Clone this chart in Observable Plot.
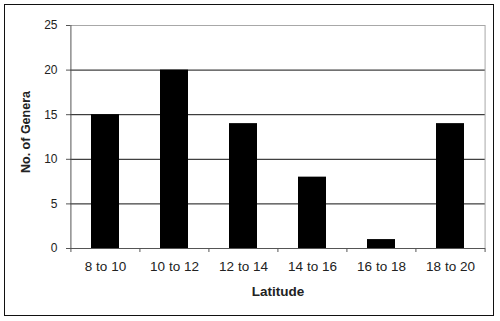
<!DOCTYPE html>
<html><head><meta charset="utf-8">
<script src="https://cdn.jsdelivr.net/npm/d3@7"></script>
<script src="https://cdn.jsdelivr.net/npm/@observablehq/plot@0.6"></script>
<style>
html,body{margin:0;padding:0;background:#fff;}
#wrap{position:relative;width:500px;height:321px;}
#frame{position:absolute;left:4px;top:4px;width:490px;height:312px;border:1px solid #111;box-sizing:border-box;pointer-events:none;}
</style>
</head><body>
<div id="wrap"><div id="frame"></div></div>
<script>
const categories = ["8 to 10","10 to 12","12 to 14","14 to 16","16 to 18","18 to 20"];
const genera = [15, 20, 14, 8, 1, 14];
const yTicks = [0, 5, 10, 15, 20, 25];
const gridLines = [5, 10, 15, 20];

const data = categories.map((c, i) => ({cat: c, n: genera[i]}));
const W = 500, H = 321, mL = 70, mR = 15, mT = 25, mB = 73;
const step = (W - mL - mR) / categories.length;

const chart = Plot.plot({
  width: W, height: H,
  marginLeft: mL, marginRight: mR, marginTop: mT, marginBottom: mB,
  style: {fontFamily: "'Liberation Sans', Arial, sans-serif", fontSize: "12px", color: "#222", background: "transparent"},
  x: {domain: categories, paddingInner: 0.6, paddingOuter: 0.3, label: null},
  y: {domain: [0, 25], label: null},
  marks: [
    Plot.ruleY([25], {stroke: "#a8a8a8"}),
    Plot.ruleY(gridLines, {stroke: "#111"}),
    Plot.ruleX([categories[categories.length - 1]], {y1: 0, y2: 25, dx: step / 2, stroke: "#a8a8a8"}),
    Plot.barY(data, {x: "cat", y: "n", fill: "#000"}),
    Plot.ruleY([0], {stroke: "#555"}),
    Plot.ruleX([categories[0]], {y1: 0, y2: 25, dx: -step / 2, stroke: "#555"}),
    Plot.ruleX(categories, {y1: 0, y2: -0.45, dx: -step / 2, stroke: "#555"}),
    Plot.ruleX([categories[categories.length - 1]], {y1: 0, y2: -0.45, dx: step / 2, stroke: "#555"}),
    Plot.axisY({ticks: yTicks, tickSize: 4, tickPadding: 9, stroke: "#555", fontSize: 12, fill: "#222",
      label: "No. of Genera", labelAnchor: "center", labelArrow: "none", labelOffset: 49}),
    Plot.axisX({tickSize: 0, tickPadding: 13, fontSize: 13.5, fill: "#222",
      label: "Latitude", labelAnchor: "center", labelArrow: "none", labelOffset: 47})
  ]
});
chart.style.position = "absolute";
chart.style.left = "0px";
chart.style.top = "0px";
chart.querySelectorAll("[aria-label='y-axis label']").forEach(g => {
  g.setAttribute("font-weight", "bold");
  g.setAttribute("font-size", "12.5");
  g.querySelectorAll("text").forEach(t => t.setAttribute("dx", "5"));
});
chart.querySelectorAll("[aria-label='x-axis label']").forEach(g => {
  g.setAttribute("font-weight", "bold");
  g.setAttribute("font-size", "13.5");
});
document.getElementById("wrap").prepend(chart);
</script>
</body></html>
